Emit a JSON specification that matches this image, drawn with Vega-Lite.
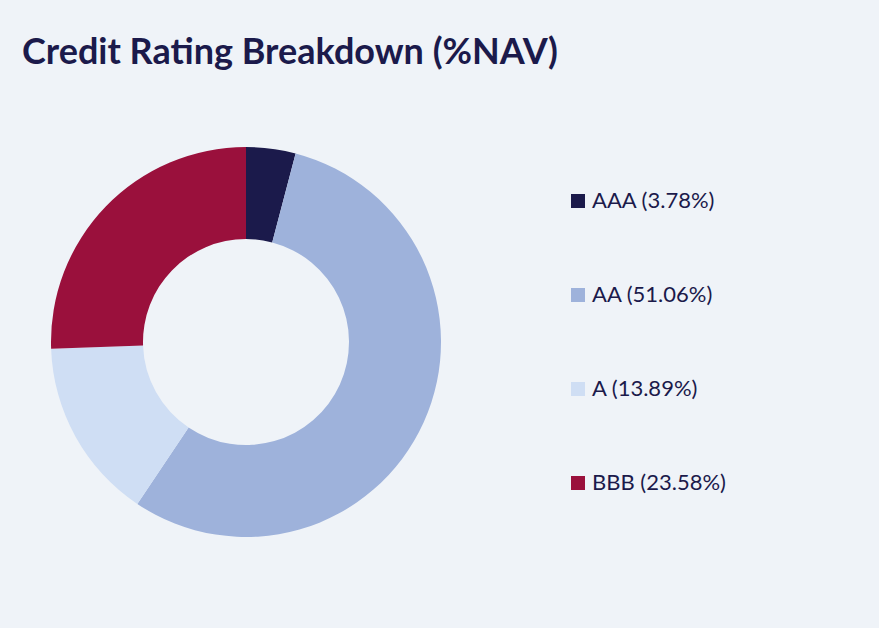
{
  "$schema": "https://vega.github.io/schema/vega-lite/v6.json",
  "autosize": "none",
  "width": 448,
  "height": 500,
  "padding": {"left": 22, "top": 92, "right": 409, "bottom": 36},
  "background": "#eff3f8",
  "config": {"view": {"stroke": null}},
  "title": {
    "text": "Credit Rating Breakdown (%NAV)",
    "anchor": "start",
    "frame": "group",
    "font": "Lato",
    "fontSize": 36,
    "fontWeight": "bold",
    "color": "#1b1a4b",
    "baseline": "alphabetic",
    "offset": -8
  },
  "data": {
    "values": [
      {"rating": "AAA", "label": "AAA (3.78%)", "pct": 3.78, "rank": 1},
      {"rating": "AA", "label": "AA (51.06%)", "pct": 51.06, "rank": 2},
      {"rating": "A", "label": "A (13.89%)", "pct": 13.89, "rank": 3},
      {"rating": "BBB", "label": "BBB (23.58%)", "pct": 23.58, "rank": 4}
    ]
  },
  "mark": {"type": "arc", "outerRadius": 195, "innerRadius": 103},
  "encoding": {
    "theta": {"field": "pct", "type": "quantitative", "stack": true},
    "order": {"field": "rank", "type": "quantitative"},
    "color": {
      "field": "label",
      "type": "nominal",
      "sort": ["AAA (3.78%)", "AA (51.06%)", "A (13.89%)", "BBB (23.58%)"],
      "scale": {
        "domain": ["AAA (3.78%)", "AA (51.06%)", "A (13.89%)", "BBB (23.58%)"],
        "range": ["#1b1a4b", "#9eb2db", "#cfdef4", "#9a103c"]
      },
      "legend": {
        "title": null,
        "orient": "none",
        "legendX": 545,
        "legendY": 98,
        "padding": 0,
        "symbolType": "square",
        "symbolSize": 196,
        "symbolStrokeWidth": 0,
        "labelFont": "Lato",
        "labelFontSize": 22,
        "labelColor": "#1b1a4b",
        "labelOffset": 3,
        "rowPadding": 72,
        "labelLimit": 300
      }
    }
  }
}
